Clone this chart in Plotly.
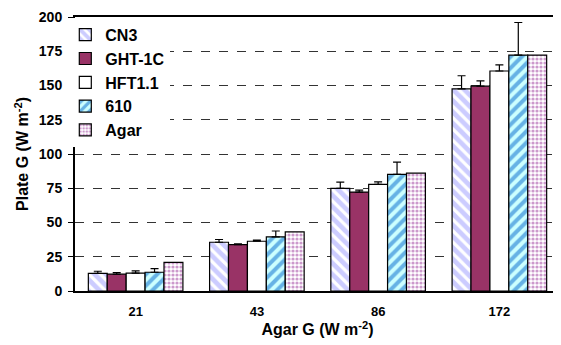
import plotly.graph_objects as go

categories = ["21", "43", "86", "172"]
series_names = ["CN3", "GHT-1C", "HFT1.1", "610", "Agar"]
cn3 = [12.8, 35.6, 74.9, 147.6]
cn3_err = [1.6, 2.0, 4.5, 9.5]
ght = [12.3, 33.9, 72.2, 149.5]
ght_err = [1.2, 0.5, 1.5, 3.9]
hft = [13.0, 36.3, 77.8, 160.6]
hft_err = [1.7, 0.8, 1.9, 4.4]
s610 = [13.7, 39.5, 85.2, 172.2]
s610_err = [2.7, 4.3, 8.9, 23.8]
agar = [20.9, 43.1, 86.0, 172.2]
agar_err = [0, 0, 0, 0]

values = [cn3, ght, hft, s610, agar]
errors = [cn3_err, ght_err, hft_err, s610_err, agar_err]

styles = [
    dict(color="white", pattern=dict(shape="\\", fgcolor="#9999FF", bgcolor="white", size=8, solidity=0.6)),
    dict(color="#993366"),
    dict(color="white"),
    dict(color="#CCFFFF", pattern=dict(shape="/", fgcolor="#0066CC", bgcolor="#CCFFFF", size=8, solidity=0.5)),
    dict(color="white", pattern=dict(shape=".", fgcolor="#993399", bgcolor="white", size=4, solidity=0.5)),
]

fig = go.Figure()
for name, vals, errs, st in zip(series_names, values, errors, styles):
    marker = dict(color=st["color"], line=dict(color="black", width=1.2))
    if "pattern" in st:
        marker["pattern"] = st["pattern"]
    fig.add_trace(go.Bar(
        x=categories, y=vals, name=name, marker=marker,
        error_y=dict(type="data", array=errs, arrayminus=[0]*len(errs), symmetric=False,
                     color="black", thickness=1.2, width=4, visible=any(e > 0 for e in errs)),
    ))

font_family = "Liberation Sans"
fig.update_layout(
    width=553, height=337,
    margin=dict(l=67, r=1, t=6, b=54),
    paper_bgcolor="white", plot_bgcolor="white",
    barmode="group", bargap=0.22, bargroupgap=0,
    font=dict(family=font_family, color="black"),
    showlegend=True,
    legend=dict(x=-0.02, y=0.997, xanchor="left", yanchor="top",
                bgcolor="white", borderwidth=0,
                font=dict(size=16, family=font_family, color="black", weight="bold"),
                traceorder="normal", itemwidth=30),
    xaxis=dict(
        type="category", showline=True, linecolor="black", linewidth=2,
        mirror=True, ticks="", showgrid=False, ticklabelstandoff=7,
        tickfont=dict(size=13, family=font_family, weight="bold"),
        title=dict(text="Agar G (W m<sup>-2</sup>)", standoff=4,
                   font=dict(size=16, family=font_family, weight="bold")),
    ),
    yaxis=dict(
        range=[0, 200], dtick=25, showline=True, linecolor="black", linewidth=2,
        ticks="outside", ticklen=5, tickcolor="black", ticklabelstandoff=3,
        ticklabeloverflow="allow",
        showgrid=True, gridcolor="#333333", griddash="dash", gridwidth=1,
        zeroline=False,
        tickfont=dict(size=14, family=font_family, weight="bold"),
        title=dict(text="Plate G (W m<sup>-2</sup>)", standoff=6,
                   font=dict(size=16, family=font_family, weight="bold")),
    ),
)

fig.write_html("out.html")
